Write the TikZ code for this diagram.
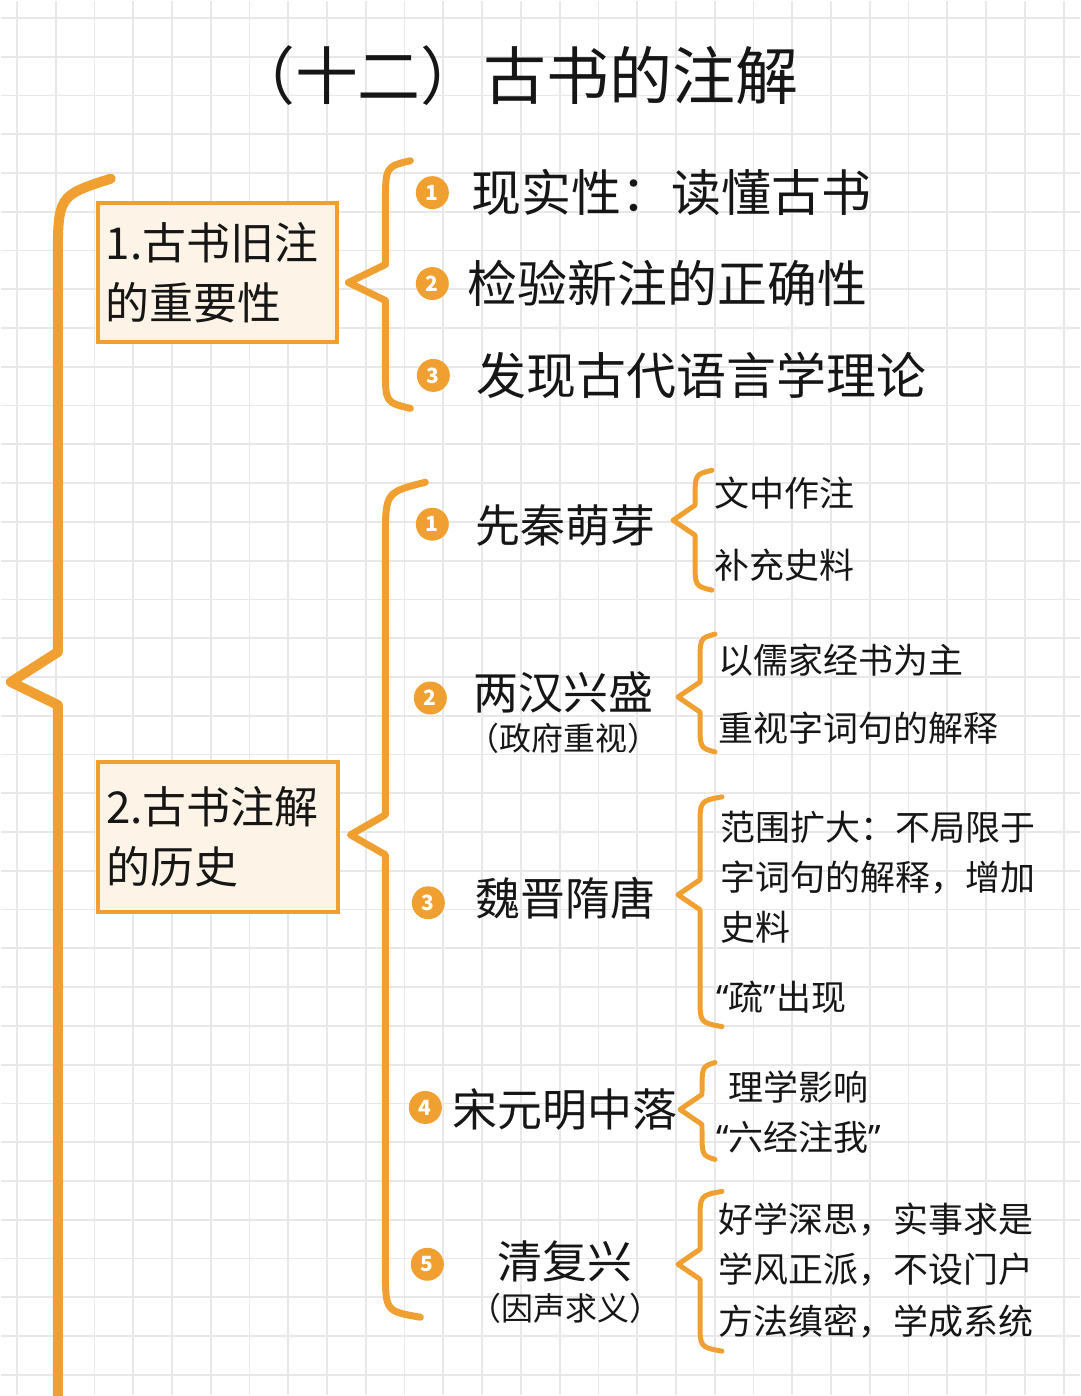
\documentclass[tikz,border=0pt]{standalone}
\usepackage{fontspec}
\setmainfont{Noto Sans CJK SC}
\newfontfamily\quotefont{Noto Sans}
\usepackage{xcolor}
\usepackage{tikz}
\usetikzlibrary{positioning}

\definecolor{mark}{HTML}{F0A030}
\definecolor{boxfill}{HTML}{FDF3E6}
\definecolor{gridgray}{HTML}{E8E8E8}
\definecolor{ink}{HTML}{161616}

\begin{document}
\begin{tikzpicture}[
                x=0.5pt, y=-0.5pt,
                gridline/.style={draw=gridgray, line width=0.9pt},
                heading/.style={text=ink, font=\fontsize{31.5}{36}\selectfont},
                topic/.style={rectangle, draw=mark, line width=2pt, fill=boxfill, text=ink,
                    text width=112pt, align=left, inner xsep=4pt, inner ysep=0pt,
                    font=\fontsize{22}{30}\selectfont},
                num/.style={circle, fill=mark, text=white, minimum size=16.5pt, inner sep=0pt,
                    font=\fontsize{10.5}{10.5}\selectfont\bfseries},
                item/.style={text=ink, inner sep=2pt, font=\fontsize{25}{30}\selectfont},
                period/.style={text=ink, inner sep=2pt, font=\fontsize{22.5}{26}\selectfont},
                note/.style={text=ink, inner sep=1pt, font=\fontsize{16}{20}\selectfont},
                detail/.style={text=ink, anchor=west, inner sep=0pt, align=left,
                    font=\fontsize{17.5}{25}\selectfont},
                bigbrace/.style={draw=mark, line width=5pt, line cap=round, line join=round},
                midbrace/.style={draw=mark, line width=3.5pt, line cap=round, line join=round},
                smallbrace/.style={draw=mark, line width=2.5pt, line cap=round, line join=round}
            ]
                % Paper
                \fill[white] (0,0) rectangle (1080,1396);
                \foreach \i in {0,...,27}
                    \draw[gridline] ({16+38.82*\i},0) -- ({16+38.82*\i},1396);
                \foreach \j in {0,...,35}
                    \draw[gridline] (0,{17+38.82*\j}) -- (1080,{17+38.82*\j});
                \useasboundingbox (0,0) rectangle (1080,1396);

                % Nodes
                \node[heading] (title) at (515,75) {（十二）古书的注解};

                \node[topic, minimum height=70pt] (imp) at (217,272) {1.古书旧注\\的重要性};
                \node[topic, minimum height=75pt] (hist) at (217.5,837) {2.古书注解\\的历史};

                \node[num] (a1) at (432,192) {1};
                \node[item, right=9pt of a1] (a1t) {现实性：读懂古书};
                \node[num] (a2) at (432,283) {2};
                \node[item, right=7pt of a2] (a2t) {检验新注的正确性};
                \node[num] (a3) at (433,375) {3};
                \node[item, right=11pt of a3] (a3t) {发现古代语言学理论};

                \node[num] (b1) at (432,524) {1};
                \node[period] (b1t) at (565,525) {先秦萌芽};
                \node[num] (b2) at (430,698) {2};
                \node[period] (b2t) at (563,692) {两汉兴盛};
                \node[note, below=2pt of b2t] (b2n) {（政府重视）};
                \node[num] (b3) at (428,903) {3};
                \node[period] (b3t) at (565,898) {魏晋隋唐};
                \node[num] (b4) at (425,1108) {4};
                \node[period] (b4t) at (565,1110) {宋元明中落};
                \node[num] (b5) at (427,1265) {5};
                \node[period] (b5t) at (565,1262) {清复兴};
                \node[note, below=2pt of b5t] (b5n) {（因声求义）};

                \node[detail] (c11) at (714,493) {文中作注};
                \node[detail] (c12) at (714,565) {补充史料};
                \node[detail] (c21) at (718,660) {以儒家经书为主};
                \node[detail] (c22) at (718,728) {重视字词句的解释};
                \node[detail] (c31) at (720,877) {范围扩大：不局限于\\字词句的解释，增加\\史料};
                \node[detail] (c32) at (716,998) {{\quotefont “}疏{\quotefont ”}出现};
                \node[detail] (c41) at (728,1088) {理学影响};
                \node[detail] (c42) at (716,1138) {{\quotefont “}六经注我{\quotefont ”}};
                \node[detail] (c51) at (718,1220) {好学深思，实事求是};
                \node[detail] (c52) at (718,1270) {学风正派，不设门户};
                \node[detail] (c53) at (718,1322) {方法缜密，学成系统};

                % Braces
                \draw[bigbrace] (110,178) .. controls (57,195) .. (57,262)
                    -- (57,652) -- (10,682) -- (57,705) -- (57,1400);
                \draw[midbrace] (410,160) .. controls (385,166) .. (385,205)
                    -- (385,264) -- (348,282) -- (385,300) -- (385,368)
                    .. controls (385,402) .. (410,408);
                \draw[midbrace] (425,482) .. controls (385,492) .. (385,540)
                    -- (385,815) -- (350,835) -- (385,855) -- (385,1270)
                    .. controls (385,1312) .. (420,1318);
                \foreach \xa/\xs/\yt/\ym/\yb/\xp in {712/695/470/520/590/673,
                        715/700/634/697/752/678, 722/700/797/895/1027/678,
                        715/702/1063/1110/1160/680, 722/700/1192/1265/1352/678}
                    \draw[smallbrace] (\xa,\yt) .. controls (\xs,\yt+4) .. (\xs,\yt+30)
                        -- (\xs,\ym-15) -- (\xp,\ym) -- (\xs,\ym+15) -- (\xs,\yb-30)
                        .. controls (\xs,\yb-4) .. (\xa,\yb);
            \end{tikzpicture}
\end{document}
